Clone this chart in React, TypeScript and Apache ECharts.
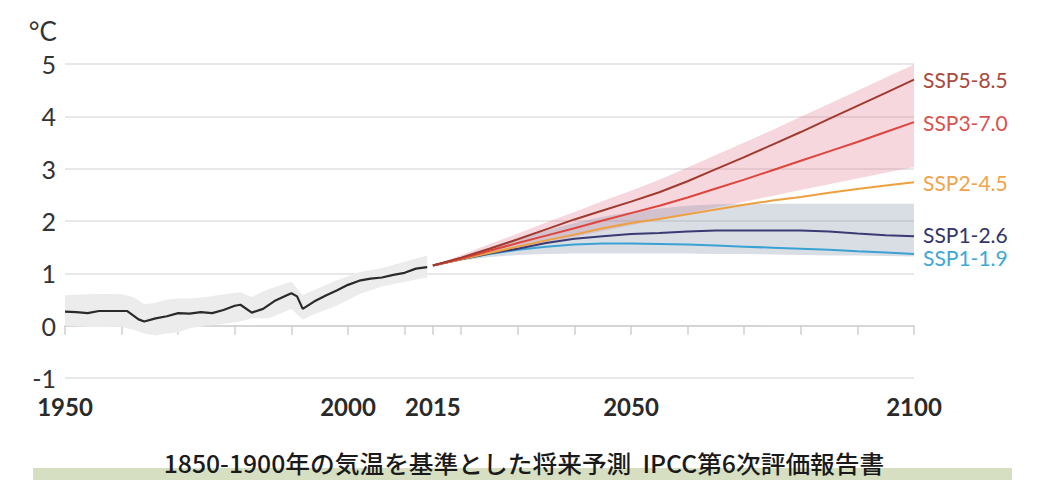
import React, { useEffect, useRef } from "react";
import * as echarts from "echarts";

// ---- Data ----
const histYears = [1950, 1952, 1954, 1956, 1958, 1961, 1963, 1964, 1966, 1968, 1970, 1972, 1974, 1976, 1978, 1980, 1981, 1983, 1985, 1987, 1989, 1990, 1991, 1992, 1994, 1996, 1998, 2000, 2002, 2004, 2006, 2008, 2010, 2012, 2014];
const histTemp = [0.27, 0.26, 0.24, 0.28, 0.28, 0.28, 0.12, 0.08, 0.14, 0.18, 0.24, 0.23, 0.26, 0.24, 0.3, 0.38, 0.4, 0.25, 0.32, 0.47, 0.57, 0.62, 0.56, 0.32, 0.46, 0.57, 0.67, 0.78, 0.86, 0.9, 0.92, 0.97, 1.01, 1.09, 1.12];

const histBandYears = [1950, 1955, 1960, 1962, 1964, 1966, 1968, 1970, 1972, 1975, 1978, 1981, 1983, 1986, 1990, 1992, 1994, 1998, 2002, 2006, 2010, 2014];
const histBandHigh = [0.58, 0.61, 0.6, 0.55, 0.41, 0.44, 0.5, 0.52, 0.52, 0.55, 0.6, 0.64, 0.55, 0.7, 0.84, 0.58, 0.68, 0.87, 1.02, 1.1, 1.22, 1.34];
const histBandLow = [0.0, -0.03, -0.02, -0.08, -0.15, -0.19, -0.15, -0.13, -0.05, 0.0, 0.03, 0.08, 0.14, 0.14, 0.32, 0.12, 0.22, 0.38, 0.6, 0.75, 0.84, 0.92];

const projYears = [2015, 2020, 2025, 2030, 2035, 2040, 2045, 2050, 2055, 2060, 2065, 2070, 2075, 2080, 2085, 2090, 2095, 2100];
const ssp585 = [1.15, 1.3, 1.47, 1.65, 1.84, 2.03, 2.2, 2.37, 2.55, 2.76, 2.99, 3.22, 3.46, 3.7, 3.95, 4.2, 4.45, 4.7];
const ssp370 = [1.15, 1.28, 1.43, 1.58, 1.72, 1.86, 2.01, 2.15, 2.29, 2.45, 2.62, 2.79, 2.97, 3.15, 3.33, 3.51, 3.7, 3.89];
const ssp245 = [1.15, 1.27, 1.39, 1.51, 1.63, 1.74, 1.86, 1.96, 2.04, 2.13, 2.22, 2.31, 2.39, 2.46, 2.54, 2.61, 2.68, 2.74];
const ssp126 = [1.15, 1.27, 1.38, 1.47, 1.58, 1.66, 1.71, 1.75, 1.77, 1.8, 1.82, 1.82, 1.82, 1.82, 1.8, 1.76, 1.73, 1.71];
const ssp119 = [1.15, 1.27, 1.37, 1.45, 1.51, 1.55, 1.57, 1.57, 1.56, 1.55, 1.53, 1.51, 1.49, 1.47, 1.45, 1.42, 1.4, 1.37];

const redBandHigh = [1.15, 1.35, 1.56, 1.76, 1.97, 2.17, 2.38, 2.58, 2.79, 3.02, 3.26, 3.5, 3.74, 3.99, 4.24, 4.49, 4.74, 4.99];
const redBandLow = [1.15, 1.26, 1.37, 1.48, 1.59, 1.7, 1.81, 1.92, 2.04, 2.15, 2.26, 2.37, 2.48, 2.59, 2.7, 2.81, 2.92, 3.03];
const blueBandHigh = [1.15, 1.32, 1.5, 1.66, 1.82, 1.96, 2.08, 2.17, 2.24, 2.29, 2.32, 2.33, 2.33, 2.33, 2.33, 2.33, 2.33, 2.33];
const blueBandLow = [1.15, 1.24, 1.31, 1.35, 1.37, 1.38, 1.38, 1.38, 1.38, 1.38, 1.37, 1.37, 1.36, 1.35, 1.34, 1.34, 1.33, 1.32];

const tickYears = [1950, 1960, 1970, 1980, 1990, 2000, 2010, 2015, 2020, 2030, 2040, 2050, 2060, 2070, 2080, 2090, 2100];
const labelYears = [1950, 2000, 2015, 2050, 2100];

const unitLabel = "°C";
const caption = "1850-1900年の気温を基準とした将来予測  IPCC第6次評価報告書";

const scenarios = [
  { name: "SSP5-8.5", values: ssp585, color: "#a03a2e", label: "#a8493c", dy: 0 },
  { name: "SSP3-7.0", values: ssp370, color: "#e0443c", label: "#d9534a", dy: 0 },
  { name: "SSP2-4.5", values: ssp245, color: "#eea040", label: "#f0a44a", dy: 0 },
  { name: "SSP1-2.6", values: ssp126, color: "#3a3a74", label: "#33356c", dy: -2 },
  { name: "SSP1-1.9", values: ssp119, color: "#3aa2d2", label: "#40a8d6", dy: 4 },
];

function band(id: string, years: number[], low: number[], high: number[], color: string) {
  return {
    type: "custom",
    name: id,
    silent: true,
    clip: true,
    z: 1,
    encode: { x: 0, y: [1, 2] },
    data: years.map((y, i) => [y, low[i], high[i]]),
    renderItem: (params: any, api: any) => {
      if (params.dataIndex !== 0) return null;
      const top = years.map((y, i) => api.coord([y, high[i]]));
      const bottom = years.map((y, i) => api.coord([y, low[i]])).reverse();
      return {
        type: "polygon",
        shape: { points: top.concat(bottom) },
        style: { fill: color },
      };
    },
  };
}

export default function App() {
  const ref = useRef<HTMLDivElement>(null);
  useEffect(() => {
    if (!ref.current) return;
    const chart = echarts.init(ref.current, undefined, { renderer: "svg" });
    const series: any[] = [
      band("hist", histBandYears, histBandLow, histBandHigh, "#ececec"),
      band("red", projYears, redBandLow, redBandHigh, "rgba(225,110,135,0.28)"),
      band("blue", projYears, blueBandLow, blueBandHigh, "rgba(120,135,160,0.28)"),
      {
        type: "line",
        name: "historical",
        data: histYears.map((y, i) => [y, histTemp[i]]),
        symbol: "none",
        lineStyle: { color: "#2a2a2a", width: 2.2 },
        z: 3,
      },
      ...scenarios
        .slice()
        .reverse()
        .map((s) => ({
          type: "line",
          name: s.name,
          data: projYears.map((y, i) => [y, s.values[i]]),
          symbol: "none",
          lineStyle: { color: s.color, width: 2 },
          z: 3,
          endLabel: {
            show: true,
            formatter: s.name,
            color: s.label,
            fontSize: 21,
            lineHeight: 18,
            fontFamily: "Lato",
            distance: 9,
            offset: [0, s.dy],
          },
        })),
    ];
    chart.setOption({
      animation: false,
      grid: { left: 65, right: 134, top: 64, bottom: 102 },
      xAxis: {
        type: "value",
        min: 1950,
        max: 2100,
        interval: 10,
        axisLine: { show: true, lineStyle: { color: "#cfcfcf", width: 1.5 } },
        axisTick: { show: true, customValues: tickYears, length: 9, lineStyle: { color: "#cfcfcf", width: 1.5 } },
        axisLabel: {
          customValues: labelYears,
          formatter: (v: number) => String(v),
          fontSize: 24,
          fontWeight: "bold",
          color: "#2a2a2a",
          fontFamily: "Lato",
          margin: 16,
        },
        splitLine: { show: false },
      },
      yAxis: {
        type: "value",
        min: -1,
        max: 5,
        interval: 1,
        axisLine: { show: false },
        axisTick: { show: false },
        axisLabel: { fontSize: 25, color: "#333", fontFamily: "Lato", margin: 9 },
        splitLine: { lineStyle: { color: "#e0e0e0", width: 1.5 } },
      },
      graphic: [
        {
          type: "text",
          x: 57,
          y: 31,
          style: {
            text: unitLabel,
            textAlign: "right",
            textVerticalAlign: "middle",
            fontSize: 26,
            fontFamily: "Lato",
            fill: "#333",
          },
        },
        {
          type: "rect",
          shape: { x: 33, y: 468, width: 979, height: 12 },
          style: { fill: "#d6dfc2" },
          z: 0,
        },
        {
          type: "text",
          x: 524,
          y: 463,
          scaleX: 1.03,
          z: 10,
          style: {
            text: caption,
            textAlign: "center",
            textVerticalAlign: "middle",
            fontSize: 24,
            lineHeight: 24,
            fontWeight: 500,
            fontFamily: "Noto Sans CJK JP",
            fill: "#1a1a1a",
          },
        },
      ],
      series,
    });
    return () => chart.dispose();
  }, []);
  return <div ref={ref} style={{ width: 1048, height: 480, position: "absolute", left: 0, top: 0 }} />;
}
